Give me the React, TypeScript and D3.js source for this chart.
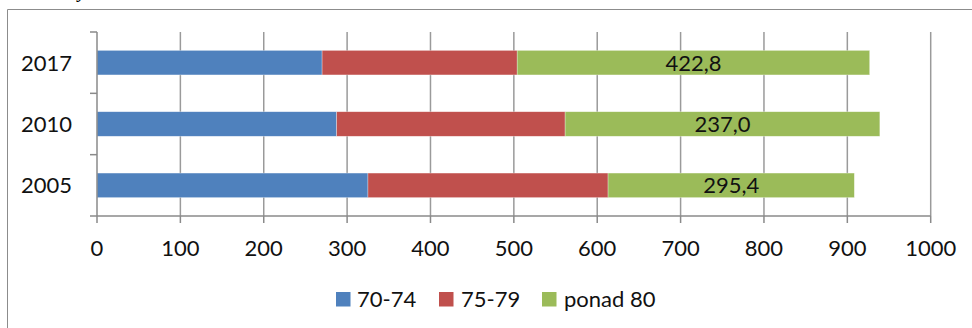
import React from "react";
import * as d3 from "d3";

const categories = ["2017", "2010", "2005"];
const seriesNames = ["70-74", "75-79", "ponad 80"];
const s7074 = [270, 287.5, 325];
const s7579 = [234, 274, 288];
const sPonad80 = [422.8, 377.5, 295.4];
const dataLabels = ["422,8", "237,0", "295,4"];
const xTicks = [0, 100, 200, 300, 400, 500, 600, 700, 800, 900, 1000];
const colors = ["#4F81BD", "#C0504D", "#9BBB59"];

const W = 972;
const H = 328;
const FONT = "Lato, 'Open Sans', sans-serif";
const FS = 22;

export default function App() {
  const left = 97, right = 930.7, top = 32, bottom = 216;
  const x = d3.scaleLinear().domain([0, 1000]).range([left, right]);
  const y = d3.scaleBand().domain(categories).range([top, bottom]).paddingInner(0.6).paddingOuter(0.3);
  const rows = categories.map((c, i) => ({ cat: c, a: s7074[i], b: s7579[i], c: sPonad80[i] }));
  const stacked = d3.stack<any>().keys(["a", "b", "c"])(rows);
  const bounds = categories.map((_, i) => top + (i * (bottom - top)) / categories.length).concat([bottom]);
  const gridColor = "#9a9a9a";
  const legendItems = [
    { sx: 336, tx: 357 },
    { sx: 439, tx: 461 },
    { sx: 542, tx: 564 },
  ];
  return (
    <svg width={W} height={H} style={{ position: "fixed", left: 0, top: 0, background: "#fff" }}>
      <rect x={0} y={0} width={W} height={H} fill="#fff" />
      <text x={78} y={-3} fontFamily="'Liberation Serif', serif" fontStyle="italic" fontSize={20} fill="#000">y</text>
      <path d={`M7.5,${H} V9.5 H${W}`} fill="none" stroke="#8c8c8c" strokeWidth={1} />
      {xTicks.slice(1).map((t) => (
        <line key={t} x1={x(t)} x2={x(t)} y1={top} y2={bottom} stroke={gridColor} strokeWidth={1.5} />
      ))}
      {stacked.map((layer, si) =>
        layer.map((d, i) => (
          <rect
            key={`${si}-${i}`}
            x={x(d[0])}
            y={y(categories[i])!}
            width={x(d[1]) - x(d[0])}
            height={y.bandwidth()}
            fill={colors[si]}
            stroke="#ffffff"
            strokeOpacity={0.5}
            strokeWidth={0.6}
          />
        ))
      )}
      {stacked[2].map((d, i) => (
        <text
          key={i}
          x={(x(d[0]) + x(d[1])) / 2}
          y={y(categories[i])! + y.bandwidth() / 2}
          dy="0.36em"
          textAnchor="middle"
          fontFamily={FONT}
          fontSize={FS}
          fill="#111"
        >
          {dataLabels[i]}
        </text>
      ))}
      <line x1={left} x2={left} y1={top} y2={bottom} stroke="#8a8a8a" strokeWidth={1.5} />
      <line x1={left} x2={right} y1={bottom} y2={bottom} stroke="#8a8a8a" strokeWidth={1.5} />
      {bounds.map((b, i) => (
        <line key={i} x1={left - 7} x2={left} y1={b} y2={b} stroke="#8a8a8a" strokeWidth={1.5} />
      ))}
      {xTicks.map((t) => (
        <line key={t} x1={x(t)} x2={x(t)} y1={bottom} y2={bottom + 7} stroke="#8a8a8a" strokeWidth={1.5} />
      ))}
      {xTicks.map((t) => (
        <text key={t} x={x(t)} y={248} dy="0.36em" textAnchor="middle" fontFamily={FONT} fontSize={FS} fill="#111">
          {t}
        </text>
      ))}
      {categories.map((c) => (
        <text key={c} x={72} y={y(c)! + y.bandwidth() / 2} dy="0.36em" textAnchor="end" fontFamily={FONT} fontSize={FS} fill="#111">
          {c}
        </text>
      ))}
      {seriesNames.map((n, i) => (
        <g key={n}>
          <rect x={legendItems[i].sx} y={292} width={14.5} height={14.5} fill={colors[i]} />
          <text x={legendItems[i].tx} y={299.5} dy="0.36em" fontFamily={FONT} fontSize={FS} fill="#111">
            {n}
          </text>
        </g>
      ))}
    </svg>
  );
}
